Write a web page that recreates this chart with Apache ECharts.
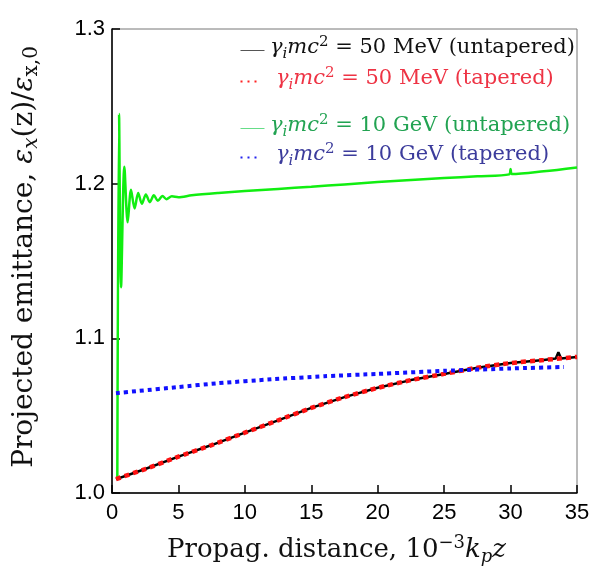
<!DOCTYPE html>
<html>
<head>
<meta charset="utf-8">
<script src="https://cdn.jsdelivr.net/npm/echarts@6/dist/echarts.min.js"></script>
<style>
html,body{margin:0;padding:0;background:#fff;}
#chart{width:594px;height:579px;}
</style>
</head>
<body>
<div id="chart"></div>
<script>
// ---- data ----
const xTicks = [0, 5, 10, 15, 20, 25, 30, 35];
const yTicks = [1.0, 1.1, 1.2, 1.3];

const mevUntaperedX = [0.3, 1, 2.5, 5, 7.5, 10, 12.5, 15, 17.5, 20, 22.5, 25, 27.5, 30, 32.5, 33.4, 33.6, 33.8, 35];
const mevUntaperedY = [1.009, 1.011, 1.0155, 1.0235, 1.031, 1.039, 1.047, 1.055, 1.062, 1.068, 1.073, 1.077, 1.081, 1.084, 1.086, 1.087, 1.091, 1.087, 1.088];

const mevTaperedX = [0.3, 2.5, 5, 7.5, 10, 12.5, 15, 17.5, 20, 22.5, 25, 27.5, 30, 32.5, 35];
const mevTaperedY = [1.009, 1.0155, 1.0235, 1.031, 1.039, 1.047, 1.055, 1.062, 1.068, 1.073, 1.077, 1.081, 1.084, 1.086, 1.088];

const gevUntaperedX = [0.40, 0.53, 0.68, 0.93, 1.18, 1.43, 1.70, 1.97, 2.25, 2.55, 2.85, 3.15, 3.45, 3.8, 4.1, 4.5, 5, 6, 8, 10, 12.5, 15, 17.5, 20, 22.5, 25, 27.5, 29.9, 30.0, 30.1, 32.5, 35];
const gevUntaperedY = [1.010, 1.245, 1.133, 1.211, 1.175, 1.196, 1.184, 1.194, 1.187, 1.193, 1.188, 1.1925, 1.189, 1.192, 1.190, 1.1918, 1.1912, 1.1925, 1.194, 1.1952, 1.1966, 1.198, 1.1995, 1.201, 1.2023, 1.2036, 1.2048, 1.206, 1.2095, 1.2062, 1.208, 1.2105];

const gevTaperedX = [0.3, 2, 5, 8, 12, 16, 20, 25, 30, 34];
const gevTaperedY = [1.0645, 1.066, 1.0685, 1.071, 1.0735, 1.0755, 1.077, 1.079, 1.0805, 1.0815];

const seriesNames = [
  'γimc2 = 50 MeV (untapered)',
  'γimc2 = 50 MeV (tapered)',
  'γimc2 = 10 GeV (untapered)',
  'γimc2 = 10 GeV (tapered)'
];
const legendTails = [' = 50 MeV (untapered)', ' = 50 MeV (tapered)', ' = 10 GeV (untapered)', ' = 10 GeV (tapered)'];

function pairs(xs, ys) { return xs.map((x, i) => [x, ys[i]]); }

const SERIF = "'DejaVu Serif', 'Liberation Serif', serif";
const SANS = "'Liberation Sans', Arial, sans-serif";

function mathRich(size, color) {
  const s = Math.round(size * 0.7);
  return {
    rm: { fontFamily: SERIF, fontSize: size, lineHeight: size + 6, color: color },
    it: { fontFamily: SERIF, fontSize: size, fontStyle: 'italic', lineHeight: size + 6, color: color },
    sub: { fontFamily: SERIF, fontSize: s, fontStyle: 'italic', lineHeight: s, verticalAlign: 'bottom', color: color },
    subrm: { fontFamily: SERIF, fontSize: s, lineHeight: s, verticalAlign: 'bottom', color: color },
    sup: { fontFamily: SERIF, fontSize: s, lineHeight: s, verticalAlign: 'top', color: color }
  };
}

const legendColors = ['#111111', '#ee3344', '#22a352', '#3c3c9c'];
const legendLineColors = ['#555555', '#ff2222', '#66dd88', '#2222ee'];
const legendYs = [48, 79, 126, 155];
const legendDash = [null, [2, 5], null, [2, 5]];

const graphics = [];
legendYs.forEach((y, i) => {
  graphics.push({
    type: 'line', left: 238, top: y, silent: true,
    shape: { x1: 0, y1: 0, x2: legendDash[i] ? 20 : 24, y2: 0 },
    style: { stroke: legendLineColors[i], lineWidth: legendDash[i] ? 2 : 1, lineDash: legendDash[i] || null }
  });
  graphics.push({
    type: 'text', silent: true,
    x: legendDash[i] ? 276 : 270, y: y,
    style: {
      text: '{it|γ}{sub|i}{it|mc}{sup|2}{rm|' + legendTails[i] + '}',
      rich: mathRich(21, legendColors[i]),
      textVerticalAlign: 'middle', textAlign: 'left',
      fill: legendColors[i]
    }
  });
});

const chart = echarts.init(document.getElementById('chart'));
chart.setOption({
  animation: false,
  backgroundColor: '#ffffff',
  grid: { left: 112, right: 17, top: 29, bottom: 86, show: true, borderColor: '#777777', borderWidth: 1,
          containLabel: false, outerBoundsMode: 'none' },
  xAxis: {
    type: 'value', min: 0, max: 35, interval: 5,
    name: 'Propag. distance, 10{sup|−3}{it|k}{sub|p}{it|z}',
    nameLocation: 'middle', nameGap: 41,
    nameTextStyle: { fontFamily: SERIF, fontSize: 26, color: '#111', rich: mathRich(26, '#111'), padding: [0, 16, 0, 0] },
    axisLine: { lineStyle: { color: '#000', width: 1.5 } },
    axisTick: { inside: true, length: 8, lineStyle: { color: '#000', width: 1.5 } },
    axisLabel: { fontFamily: SANS, fontSize: 22, color: '#000', margin: 9 },
    splitLine: { show: false }
  },
  yAxis: {
    type: 'value', min: 1.0, max: 1.3, interval: 0.1,
    name: 'Projected emittance, {it|ε}{sub|x}(z)/{it|ε}{subrm|x,0}',
    nameLocation: 'middle', nameGap: 70, nameRotate: 90,
    nameTextStyle: { fontFamily: SERIF, fontSize: 28, color: '#111', rich: mathRich(28, '#111'), padding: [0, 0, 0, 8] },
    axisLine: { lineStyle: { color: '#000', width: 1.5 } },
    axisTick: { inside: true, length: 8, lineStyle: { color: '#000', width: 1.5 } },
    axisLabel: { fontFamily: SANS, fontSize: 22, color: '#000', margin: 7, formatter: v => v.toFixed(1), padding: [0, 0, 12, 0] },
    splitLine: { show: false }
  },
  series: [
    { name: seriesNames[2], type: 'line', showSymbol: false, symbol: 'none', data: pairs(gevUntaperedX, gevUntaperedY), smooth: 0.3,
      lineStyle: { color: '#11ee11', width: 2.5 }, z: 2 },
    { name: seriesNames[0], type: 'line', showSymbol: false, symbol: 'none', data: pairs(mevUntaperedX, mevUntaperedY),
      lineStyle: { color: '#000000', width: 2.5 }, z: 3 },
    { name: seriesNames[1], type: 'line', showSymbol: false, symbol: 'none', data: pairs(mevTaperedX, mevTaperedY), smooth: 0.2,
      lineStyle: { color: '#ff1111', width: 4.5, type: [5, 4] }, z: 4 },
    { name: seriesNames[3], type: 'line', showSymbol: false, symbol: 'none', data: pairs(gevTaperedX, gevTaperedY), smooth: 0.2,
      lineStyle: { color: '#1111ff', width: 4, type: [4, 4] }, z: 5 }
  ],
  graphic: graphics
});
</script>
</body>
</html>
